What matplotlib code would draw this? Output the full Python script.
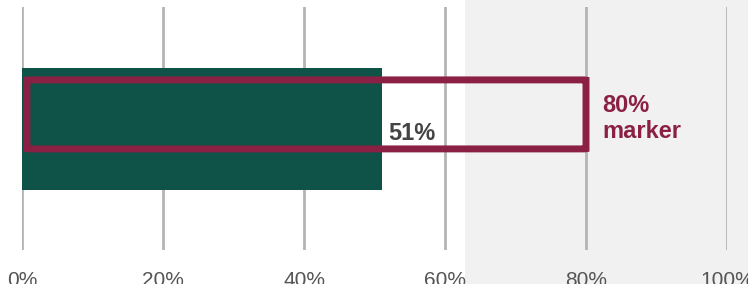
import matplotlib.pyplot as plt
from matplotlib.patches import FancyBboxPatch, Rectangle

plt.rcParams['font.family'] = ['Liberation Sans', 'DejaVu Sans']

categories = ["Share"]
values = [51]
target = 80
ticks = [0, 20, 40, 60, 80, 100]
tick_labels = ["0%", "20%", "40%", "60%", "80%", "100%"]

green = "#0e5248"
maroon = "#8b2045"

fig = plt.figure(figsize=(7.48, 2.84), dpi=100)
fig.patch.set_facecolor("white")
# light grey backdrop on the right side
fig.patches.append(Rectangle((465 / 748, 0), 1 - 465 / 748, 1, transform=fig.transFigure,
                             facecolor="#f1f1f1", edgecolor="none", zorder=0))

ax = fig.add_axes([22 / 748, 34 / 284, 705 / 748, 243 / 284])
ax.set_zorder(2)
ax.set_facecolor("none")
ax.set_xlim(0, 100)
ax.set_ylim(0, 1)

for t in ticks:
    ax.axvline(t, color="#b4b4b4", lw=2, zorder=1)

ax.barh([0.498], values, height=0.502, color=green, zorder=2)

box = FancyBboxPatch((0.7, 0.416), target - 0.7, 0.284,
                     boxstyle="round,pad=0,rounding_size=0.6",
                     fill=False, edgecolor=maroon, lw=5, zorder=3,
                     mutation_aspect=0.0015)
ax.add_patch(box)

ax.text(values[0] + 0.9, 0.453, f"{values[0]}%", color="#444444", fontsize=17,
        fontweight="bold", va="baseline", ha="left", zorder=4)
ax.text(target + 2.3, 0.54, f"{target}%\nmarker", color=maroon, fontsize=17,
        fontweight="bold", va="center", ha="left", linespacing=1.15, zorder=4)

ax.set_xticks(ticks)
ax.set_xticklabels(tick_labels, fontsize=15, color="#555555")
ax.tick_params(axis="x", length=0, pad=15)
ax.set_yticks([])
for s in ax.spines.values():
    s.set_visible(False)

fig.savefig("out.png", dpi=100)
